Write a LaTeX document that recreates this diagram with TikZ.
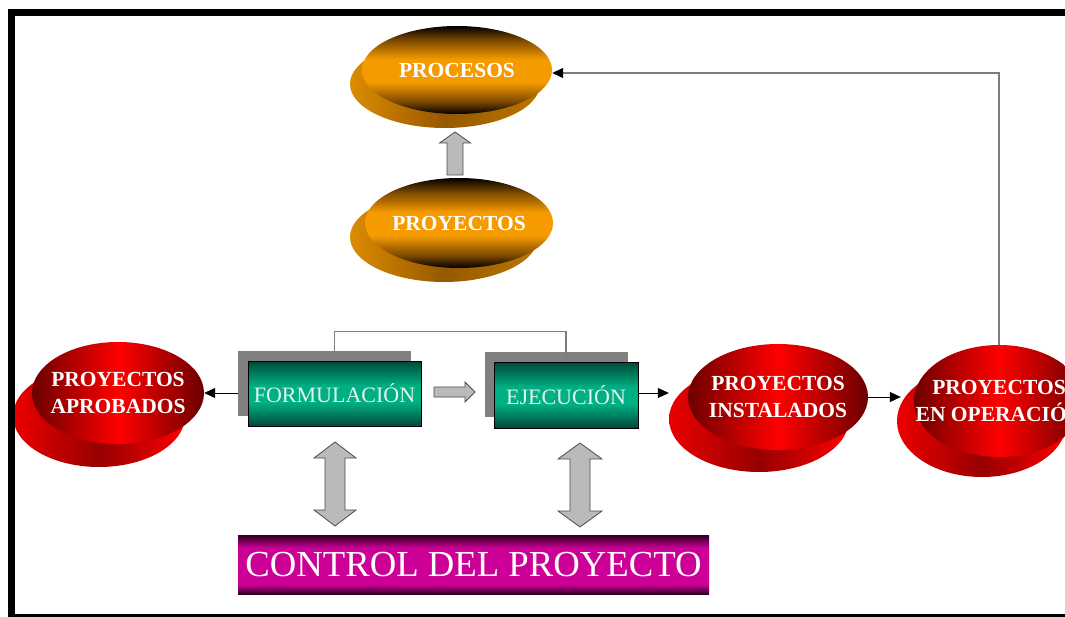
\documentclass[tikz,border=0pt]{standalone}
\usepackage{fontspec}
\setmainfont{Liberation Serif}
\usetikzlibrary{arrows.meta,shapes.geometric}

\definecolor{myorange}{RGB}{245,155,0}
\definecolor{orbrown}{RGB}{125,72,0}
\definecolor{bkorange}{RGB}{220,140,0}
\definecolor{bkorangedk}{RGB}{150,88,0}
\definecolor{dgreen}{RGB}{0,72,56}
\definecolor{mgreen}{RGB}{0,175,132}
\definecolor{dmag}{RGB}{45,0,32}
\definecolor{mmag}{RGB}{204,0,150}
\definecolor{darkred}{RGB}{108,0,0}
\definecolor{midred}{RGB}{150,0,0}
\definecolor{arrowgray}{RGB}{186,186,186}
\definecolor{linegray}{RGB}{125,125,125}
\definecolor{shadowgray}{RGB}{128,128,128}
\definecolor{boxtext}{RGB}{225,245,235}

\pgfdeclareverticalshading{orangeband}{100bp}{color(0bp)=(black); color(25bp)=(black); color(32bp)=(orbrown); color(43bp)=(myorange); color(56bp)=(myorange); color(67bp)=(orbrown); color(75bp)=(black); color(100bp)=(black)}
\pgfdeclareverticalshading{greenband}{100bp}{color(0bp)=(dgreen); color(25bp)=(dgreen); color(43bp)=(mgreen); color(56bp)=(mgreen); color(75bp)=(dgreen); color(100bp)=(dgreen)}
\pgfdeclareverticalshading{magband}{100bp}{color(0bp)=(dmag); color(25bp)=(dmag); color(33bp)=(mmag); color(64bp)=(mmag); color(75bp)=(dmag); color(100bp)=(dmag)}

\tikzset{
  ell/.style={ellipse, inner sep=0pt, draw=none},
  orfront/.style={ell, shading=orangeband},
  orback/.style={ell, left color=bkorange, right color=bkorange!85!black, middle color=bkorangedk},
  redfront/.style={ell, left color=darkred, right color=darkred, middle color=red},
  redback/.style={ell, left color=red!92!black, right color=red, middle color=midred},
  elltext/.style={text=white, font=\bfseries\fontsize{21.5}{27}\selectfont, align=center, inner sep=0pt},
  shadowbox/.style={rectangle, fill=shadowgray, draw=none, inner sep=0pt},
  greenbox/.style={rectangle, shading=greenband, draw=black, line width=0.6pt, inner sep=0pt, text=boxtext, font=\fontsize{22}{25}\selectfont},
  magbox/.style={rectangle, shading=magband, draw=none, inner sep=0pt, text=white, font=\fontsize{36.7}{40}\selectfont},
  blackarrow/.style={draw=black, line width=0.8pt, -{Triangle[length=11pt,width=10pt]}},
  grayline/.style={draw=linegray, line width=1.4pt},
  grayarrow/.style={grayline, -{Triangle[length=11pt,width=10pt,color=black]}},
  blockarrow/.style={fill=arrowgray, draw=black!70, line width=0.8pt, line join=miter},
}

\begin{document}
\begin{tikzpicture}[x=1pt,y=-1pt]
\useasboundingbox (0,0) rectangle (1065,617);
\clip (0,0) rectangle (1065,617);
\fill[white] (0,0) rectangle (1065,617);

% orange ellipses
\node[orback, minimum width=190, minimum height=88] (procesosB) at (445,84) {};
\node[orfront, minimum width=190, minimum height=88,
      label={[elltext]center:PROCESOS}] (procesos) at (457,70) {};
\node[orback, minimum width=188, minimum height=90] (proyectosB) at (444,237) {};
\node[orfront, minimum width=188, minimum height=90,
      label={[elltext]center:PROYECTOS}] (proyectos) at (459,223) {};

% red ellipses
\node[redback, minimum width=172, minimum height=102] (aprobadosB) at (99,416) {};
\node[redfront, minimum width=172, minimum height=102,
      label={[elltext]center:{PROYECTOS\\APROBADOS}}] (aprobados) at (118,393) {};
\node[redback, minimum width=180, minimum height=106] (instaladosB) at (759,419) {};
\node[redfront, minimum width=180, minimum height=106,
      label={[elltext]center:{PROYECTOS\\INSTALADOS}}] (instalados) at (778,397) {};
\node[redback, minimum width=170, minimum height=112] (operacionB) at (982,421) {};
\node[redfront, minimum width=170, minimum height=112,
      label={[elltext]center:{PROYECTOS\\EN OPERACIÓN}}] (operacion) at (999,401) {};

% boxes
\node[shadowbox, minimum width=173, minimum height=65] (formS) at (324.5,383.5) {};
\node[greenbox, minimum width=173, minimum height=65] (formulacion) at (334.5,393.5) {FORMULACIÓN};
\node[shadowbox, minimum width=143, minimum height=65] (ejecS) at (556.5,384.5) {};
\node[greenbox, minimum width=144, minimum height=66] (ejecucion) at (566,395) {EJECUCIÓN};
\node[magbox, minimum width=471, minimum height=59] (control) at (473.5,564.5) {CONTROL DEL PROYECTO};

% connectors
\draw[blackarrow] (formS.west |- aprobados.east) -- (aprobados.east);
\coordinate (ejOut) at ([yshift=2pt]ejecucion.east);
\draw[blackarrow] (ejOut) -- (instaladosB.west |- ejOut);
\draw[blackarrow] (instalados.east) -- ([xshift=4pt]operacionB.west |- instalados.east);
\draw[grayline] (formulacion.north) -- ++(0,-29) -| (ejecucion.north);
\draw[grayarrow] (operacion.north) |- ([yshift=-3pt]procesos.east);

% block arrows
\draw[blockarrow] (447,175) -- (447,143) -- (439.5,143) -- (455,132) -- (470.5,143) -- (463,143) -- (463,175) -- cycle;
\draw[blockarrow] (434,387) -- (465,387) -- (465,382) -- (475,392) -- (465,402) -- (465,397) -- (434,397) -- cycle;
\draw[blockarrow] (325,458) -- (314,458) -- (335,442) -- (356,458) -- (345,458) -- (345,510) -- (356,510) -- (335,526) -- (314,510) -- (325,510) -- cycle;
\draw[blockarrow] (570,459) -- (558,459) -- (580,443) -- (602,459) -- (590,459) -- (590,511) -- (602,511) -- (580,527) -- (558,511) -- (570,511) -- cycle;

% frame
\fill[black] (8,9) rectangle (1065,16);
\fill[black] (8,9) rectangle (15,617);
\fill[black] (8,614) rectangle (1065,617);
\end{tikzpicture}
\end{document}
